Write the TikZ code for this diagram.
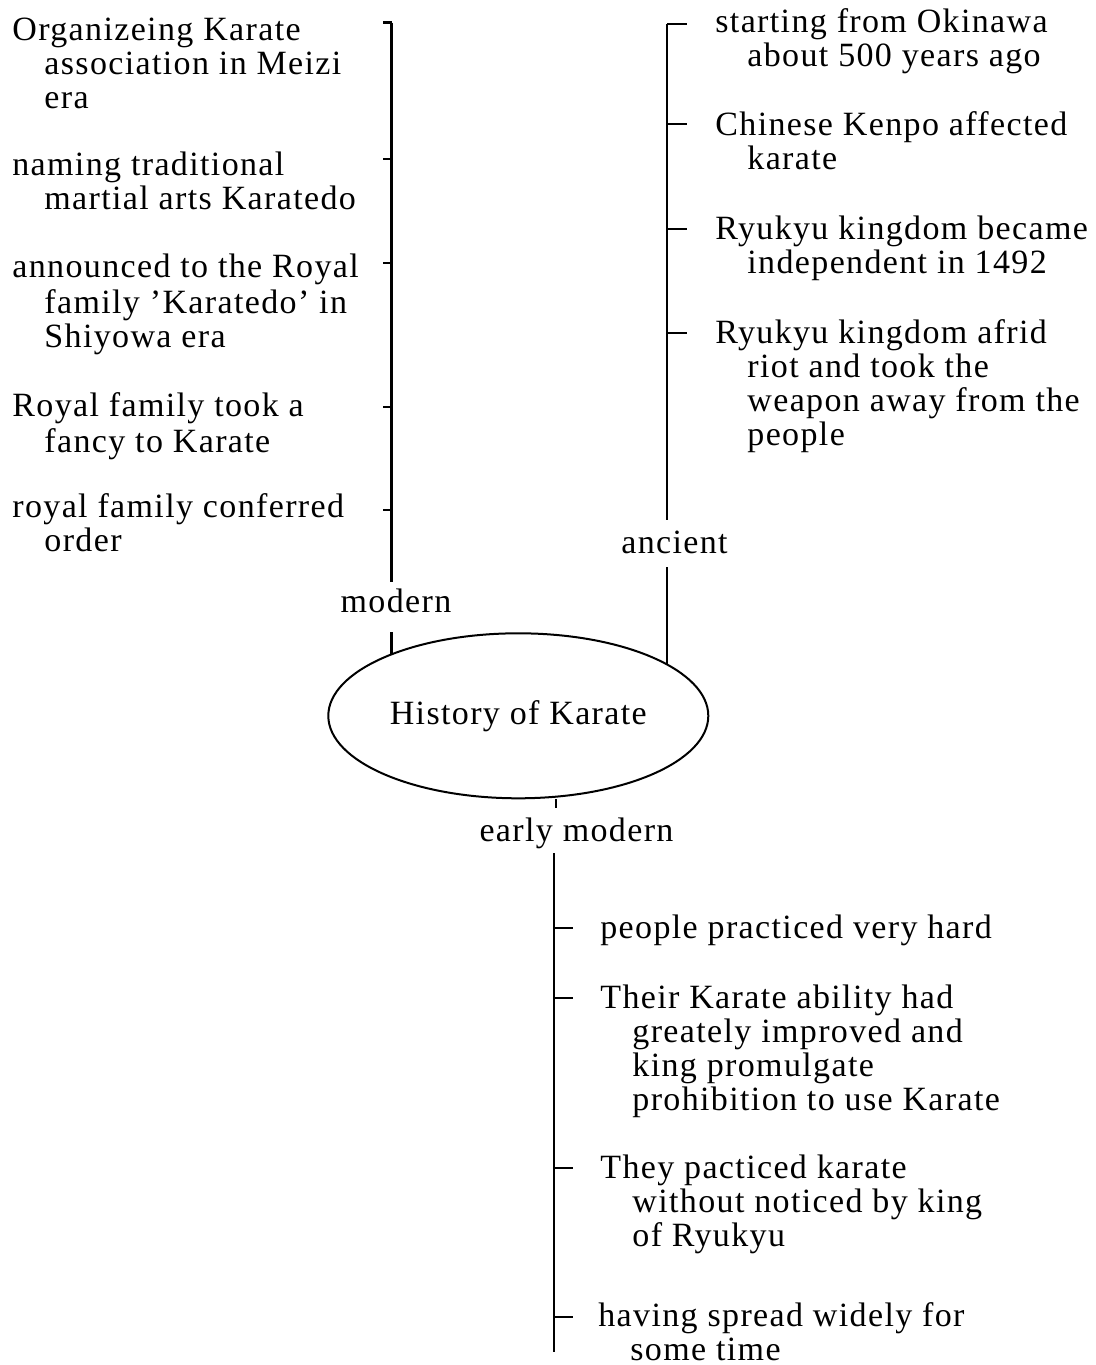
\documentclass[tikz,border=0pt]{standalone}
\usepackage{fontspec}
\setmainfont{Liberation Serif}[LetterSpace=4]
\usetikzlibrary{shapes.geometric}

% continuation line of an item, set with a hanging indent
\newcommand{\nextind}{\\\hspace*{16pt}}

\tikzset{
  txt/.style={font=\fontsize{17pt}{17pt}\selectfont},
  item/.style={txt, anchor=north west, inner sep=0pt, align=left},
  era/.style={txt, anchor=base, inner sep=0pt},
  spine/.style={line width=1.25pt},
  tickmark/.style={line width=1.3pt},
  hub/.style={ellipse, draw, line width=1pt, txt, inner sep=0pt,
              minimum width=190pt, minimum height=82.5pt},
}

\begin{document}
\begin{tikzpicture}[x=0.5pt, y=-0.5pt]
\useasboundingbox (0,0) rectangle (1096,1365);

% ---- centre ----
\node[hub] (ell) at (518.3,715.8) {History of Karate};

% ---- branch labels ----
\node[era] (modern)  at (396,612.7)   {modern};
\node[era] (ancient) at (674.5,553.3) {ancient};
\node[era] (early)   at (576.5,841.7) {early modern};

% ---- modern branch (left) ----
\node[item] (L1) at (12,16.2)  {\strut Organizeing Karate\nextind association in Meizi\nextind era};
\node[item] (L2) at (12,151.2) {\strut naming traditional\nextind martial arts Karatedo};
\node[item] (L3) at (12,253.2) {\strut announced to the Royal\nextind family 'Karatedo' in\nextind Shiyowa era};
\node[item] (L4) at (12,392.2) {\strut Royal family took a\nextind fancy to Karate};
\node[item] (L5) at (12,493.2) {\strut royal family conferred\nextind order};

\coordinate (tL1) at (391.5,22.7);
\coordinate (tL2) at (391.5,159);
\coordinate (tL3) at (391.5,263);
\coordinate (tL4) at (391.5,407);
\coordinate (tL5) at (391.5,510);
\coordinate (mA)  at (391.5,582);
\coordinate (mB)  at (391.5,632);

\draw[spine] (tL1) -- (mA);
\draw[spine] (mB) -- (mB |- ell.154);
\foreach \t in {tL1,tL2,tL3,tL4,tL5}
  \draw[tickmark] (\t) -- ++(-9,0);

% ---- ancient branch (right) ----
\node[item] (R1) at (715,7.9)   {\strut starting from Okinawa\nextind about 500 years ago};
\node[item] (R2) at (715,111.2) {\strut Chinese Kenpo affected\nextind karate};
\node[item] (R3) at (715,215.2) {\strut Ryukyu kingdom became\nextind independent in 1492};
\node[item] (R4) at (715,319.2) {\strut Ryukyu kingdom afrid\nextind riot and took the\nextind weapon away from the\nextind people};

\coordinate (tR1) at (667,24);
\coordinate (tR2) at (667,124);
\coordinate (tR3) at (667,229);
\coordinate (tR4) at (667,333);
\coordinate (aA)  at (667,520);
\coordinate (aB)  at (667,567);

\draw[spine] (tR1) -- (aA);
\draw[spine] (aB) -- (aB |- ell.19);
\foreach \t in {tR1,tR2,tR3,tR4}
  \draw[tickmark] (\t) -- ++(20,0);

% ---- early modern branch (bottom) ----
\node[item] (B1) at (600,914.2)  {\strut people practiced very hard};
\node[item] (B2) at (600,984.2)  {\strut Their Karate ability had\nextind greately improved and\nextind king promulgate\nextind prohibition to use Karate};
\node[item] (B3) at (600,1154.2) {\strut They pacticed karate\nextind without noticed by king\nextind of Ryukyu};
\node[item] (B4) at (598,1302)   {\strut having spread widely for\nextind some time};

\coordinate (eS) at (556,808);
\coordinate (eA) at (554,853);
\coordinate (eZ) at (554,1352);
\coordinate (tB1) at (554,928);
\coordinate (tB2) at (554,998);
\coordinate (tB3) at (554,1168);
\coordinate (tB4) at (554,1317);

\draw[spine] (eS |- ell.south) -- (eS);
\draw[spine] (eA) -- (eZ);
\foreach \t in {tB1,tB2,tB3,tB4}
  \draw[tickmark] (\t) -- ++(19,0);
\end{tikzpicture}
\end{document}
